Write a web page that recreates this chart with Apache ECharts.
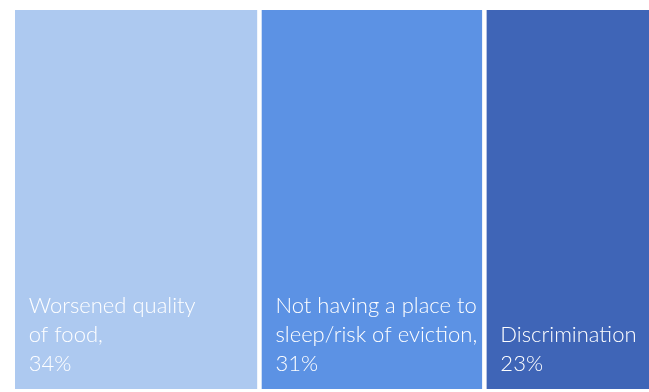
<!DOCTYPE html>
<html>
<head>
<meta charset="utf-8">
<script src="https://cdn.jsdelivr.net/npm/echarts@6/dist/echarts.min.js"></script>
<style>
  html, body { margin: 0; padding: 0; background: #ffffff; overflow: hidden; }
  #chart { width: 649px; height: 392px; }
</style>
</head>
<body>
<div id="chart"></div>
<script>
// Share of respondents reporting each hardship (percent)
const categories = [
  'Worsened quality of food,',
  'Not having a place to sleep/risk of eviction,',
  'Discrimination'
];
// Wrapped label lines for each category
const labelLines = [
  ['Worsened quality', 'of food,'],
  ['Not having a place to', 'sleep/risk of eviction,'],
  ['Discrimination']
];
const values = [34, 31, 23];
const colors = ['#adc9f0', '#5c92e4', '#3f65b7'];

const total = values.reduce((a, b) => a + b, 0);

// white border separates the stacked blocks
const gap = 2.25;

const series = categories.map((name, i) => ({
  name: name,
  type: 'bar',
  stack: 'share',
  barWidth: '100%',
  clip: false,
  data: [values[i]],
  itemStyle: { color: colors[i], borderColor: '#ffffff', borderWidth: gap },
  label: {
    show: true,
    position: 'insideBottomLeft',
    distance: 16,
    offset: [0, 3],
    color: '#ffffff',
    fontFamily: 'Lato',
    fontWeight: 300,
    fontSize: 22,
    lineHeight: 29,
    formatter: function (p) {
      return labelLines[i].concat([p.value + '%']).join('\n');
    }
  },
  emphasis: { disabled: true }
}));

const chart = echarts.init(document.getElementById('chart'), null, { renderer: 'canvas' });
chart.setOption({
  animation: false,
  // the last block runs off the right edge of the canvas
  grid: {
    left: 15 - gap, width: 634 + 2 * gap, top: 10 - gap, bottom: 3 - gap,
    outerBoundsMode: 'none', containLabel: false
  },
  xAxis: {
    type: 'value', min: 0, max: total,
    show: false
  },
  yAxis: {
    type: 'category', data: [''],
    show: false
  },
  series: series
});
</script>
</body>
</html>
